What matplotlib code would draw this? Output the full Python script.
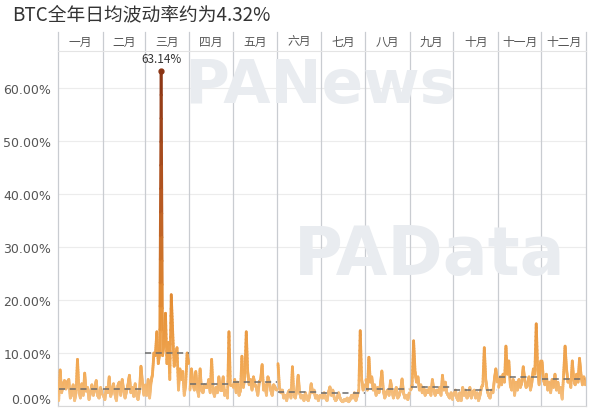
import numpy as np
import matplotlib
matplotlib.use("Agg")
import matplotlib.pyplot as plt
from matplotlib.collections import LineCollection
from matplotlib.colors import LinearSegmentedColormap, Normalize
import matplotlib.transforms as mtransforms

plt.rcParams['font.family'] = ['Noto Sans CJK SC', 'DejaVu Sans']

title = "BTC全年日均波动率约为4.32%"
months = ["一月", "二月", "三月", "四月", "五月", "六月",
          "七月", "八月", "九月", "十月", "十一月", "十二月"]

jan = [1.0, 6.8, 2.5, 4.0, 4.8, 3.2, 4.5, 5.0, 1.5, 2.2, 4.0, 1.0, 2.5, 8.8, 3.0, 1.5,
       4.2, 2.0, 6.2, 2.8, 3.5, 1.2, 2.5, 4.0, 2.0, 3.2, 4.8, 2.0, 1.5, 3.5, 2.2]
feb = [2.0, 1.2, 3.5, 2.5, 5.5, 1.8, 3.0, 4.2, 2.2, 1.0, 3.8, 4.5, 2.0, 5.0, 3.0, 1.5,
       2.8, 4.0, 5.8, 2.5, 3.5, 1.8, 4.2, 2.0, 1.2, 3.0, 7.5, 4.5, 2.0]
mar = [4.0, 2.0, 5.0, 1.5, 4.5, 6.0, 10.0, 9.5, 14.0, 8.0, 10.0, 63.14, 9.5, 12.0, 17.5,
       8.0, 12.0, 5.0, 21.0, 14.0, 7.5, 9.0, 11.0, 3.0, 7.0, 5.0, 6.5, 2.0, 4.0, 10.0, 8.0]
apr = [3.0, 7.0, 4.5, 3.0, 6.5, 3.5, 1.8, 7.0, 3.0, 2.5, 4.0, 3.5, 3.5, 5.0, 2.5, 8.8,
       3.0, 1.8, 3.5, 2.5, 5.5, 3.0, 3.0, 5.5, 2.0, 3.0, 1.5, 14.0, 4.0, 4.0]
may = [3.5, 5.0, 2.5, 4.5, 2.0, 3.0, 9.4, 3.5, 5.5, 14.0, 6.5, 4.0, 5.0, 3.0, 5.5, 4.0,
       3.5, 2.0, 4.5, 5.0, 7.8, 3.0, 4.0, 2.0, 5.5, 4.5, 3.0, 2.0, 4.0, 3.5, 3.0]
jun = [8.0, 3.5, 2.5, 3.0, 1.5, 2.0, 1.0, 2.5, 3.0, 1.5, 7.4, 2.0, 1.5, 3.0, 5.8, 2.5,
       1.5, 2.0, 1.0, 2.5, 1.5, 1.0, 2.0, 4.2, 2.5, 3.0, 1.5, 2.0, 1.0, 2.0]
jul = [2.0, 1.5, 2.5, 1.5, 1.0, 2.5, 3.6, 2.0, 3.0, 1.5, 1.0, 1.5, 2.5, 1.5, 1.0, 0.8,
       1.2, 1.0, 1.5, 0.8, 1.2, 2.0, 1.5, 2.5, 1.0, 2.0, 3.0, 14.2, 5.0, 3.0, 4.0]
aug = [5.0, 3.0, 9.2, 4.5, 5.5, 3.0, 4.0, 2.0, 3.5, 2.5, 4.0, 6.6, 3.0, 1.5, 2.5, 3.0,
       2.0, 4.8, 3.0, 1.5, 2.5, 3.5, 1.5, 2.0, 3.0, 5.1, 2.5, 1.5, 2.0, 1.2, 2.5]
sep = [3.0, 4.0, 12.3, 6.5, 4.5, 5.5, 3.0, 4.0, 2.5, 3.5, 2.0, 3.0, 2.5, 3.5, 2.0, 5.0,
       3.0, 2.0, 3.0, 2.5, 3.5, 2.0, 5.8, 3.0, 4.5, 2.5, 2.0, 1.5, 2.5, 1.2]
oct_ = [2.0, 3.0, 1.5, 1.0, 2.5, 1.0, 3.5, 2.0, 3.0, 1.5, 2.0, 3.5, 1.5, 2.5, 3.0, 1.5,
        2.5, 1.0, 2.0, 3.5, 4.0, 11.0, 5.0, 3.0, 2.0, 1.5, 3.0, 2.5, 5.0, 7.0, 4.5]
nov = [3.5, 5.5, 4.0, 6.0, 4.5, 11.3, 6.0, 8.5, 4.0, 3.0, 5.0, 2.0, 4.5, 3.0, 5.0, 3.5,
       4.5, 7.4, 5.0, 3.5, 4.0, 5.5, 3.0, 4.5, 7.0, 6.0, 15.5, 7.0, 4.0, 8.5]
dec = [8.5, 5.0, 4.0, 6.0, 3.0, 4.5, 2.5, 5.0, 3.5, 6.0, 3.0, 4.5, 2.5, 3.5, 1.3, 6.0,
       11.3, 7.0, 4.5, 5.0, 3.5, 8.5, 5.0, 4.0, 6.0, 4.5, 9.0, 6.0, 4.0, 5.5, 4.0]

monthly = [jan, feb, mar, apr, may, jun, jul, aug, sep, oct_, nov, dec]
yticks = [0, 10, 20, 30, 40, 50, 60]
ytick_labels = ["0.00%", "10.00%", "20.00%", "30.00%", "40.00%", "50.00%", "60.00%"]
peak_label = "63.14%"

W, H = 600, 414
fig = plt.figure(figsize=(W / 100, H / 100), dpi=100)
fig.patch.set_facecolor("white")

# watermark texts
fig.text(320 / W, 1 - 86 / H, "PANews", fontsize=44, fontweight="bold",
         color="#e9ecf0", ha="center", va="center", family=["DejaVu Sans"], zorder=0)
fig.text(430 / W, 1 - 256 / H, "PAData", fontsize=48, fontweight="bold",
         color="#e9ecf0", ha="center", va="center", family=["DejaVu Sans"], zorder=0)

ax = fig.add_axes([58 / W, 7 / H, 528 / W, 355 / H])
ax.set_facecolor("none")
ymax = 67
ax.set_ylim(0, ymax)
total_days = sum(len(m) for m in monthly)
ax.set_xlim(0, total_days)

cmap = LinearSegmentedColormap.from_list(
    "vol", [(0.0, "#f6c68c"), (0.1, "#f2aa56"), (0.3, "#e58f35"),
            (0.6, "#b85a22"), (1.0, "#8a3414")])
norm = Normalize(0, 63.14)

# grid
for yt in yticks:
    ax.axhline(yt, color="#ececec", lw=0.8, zorder=1)

starts = np.cumsum([0] + [len(m) for m in monthly])
header_h = 19 / 355
trans = mtransforms.blended_transform_factory(ax.transData, ax.transAxes)
for i, b in enumerate(starts):
    ax.plot([b, b], [0, 1 + header_h], transform=trans, color="#c9ccd1",
            lw=0.9, clip_on=False, zorder=2)
ax.plot([0, total_days], [1, 1], transform=trans, color="#e4e4e4", lw=0.8,
        clip_on=False, zorder=2)

for i, vals in enumerate(monthly):
    vals = np.asarray(vals, dtype=float)
    x = starts[i] + np.arange(len(vals)) + 0.5
    segs, cols = [], []
    for j in range(len(vals) - 1):
        n = 12
        xs = np.linspace(x[j], x[j + 1], n + 1)
        ys = np.linspace(vals[j], vals[j + 1], n + 1)
        for k in range(n):
            segs.append([(xs[k], ys[k]), (xs[k + 1], ys[k + 1])])
            cols.append((ys[k] + ys[k + 1]) / 2)
    lc = LineCollection(segs, cmap=cmap, norm=norm, linewidths=2.0,
                        capstyle="round", joinstyle="round", zorder=3)
    lc.set_array(np.array(cols))
    ax.add_collection(lc)
    mean = vals.mean()
    ax.plot([starts[i] + 0.5, starts[i + 1] - 0.5], [mean, mean], color="#6b6b6b",
            lw=1.1, ls=(0, (4, 3)), zorder=4)
    ax.text((starts[i] + starts[i + 1]) / 2, 1 + header_h / 2, months[i],
            transform=trans, ha="center", va="center", fontsize=8.5,
            color="#555555", clip_on=False)

# peak marker
all_vals = np.concatenate([np.asarray(m, float) for m in monthly])
pk = int(np.argmax(all_vals))
ax.plot([pk + 0.5], [all_vals[pk]], "o", color="#8a3414", ms=3.5, zorder=5)
ax.annotate(peak_label, (pk + 0.5, all_vals[pk]), xytext=(0, 5),
            textcoords="offset points", ha="center", va="bottom", fontsize=8.5,
            color="#333333", zorder=6)

ax.set_yticks(yticks)
ax.set_yticklabels(ytick_labels, fontsize=9, color="#555555",
                   family=["DejaVu Sans"])
ax.get_yticklabels()[0].set_va("bottom")
ax.set_xticks([])
ax.tick_params(axis="y", length=0, pad=5)
for s in ["top", "right", "left"]:
    ax.spines[s].set_visible(False)
ax.spines["bottom"].set_color("#d8d8d8")
ax.spines["bottom"].set_linewidth(0.8)

fig.text(12 / W, 1 - 15 / H, title, fontsize=13.5, color="#333333",
         ha="left", va="center")

fig.savefig("out.png", dpi=100, facecolor="white")
